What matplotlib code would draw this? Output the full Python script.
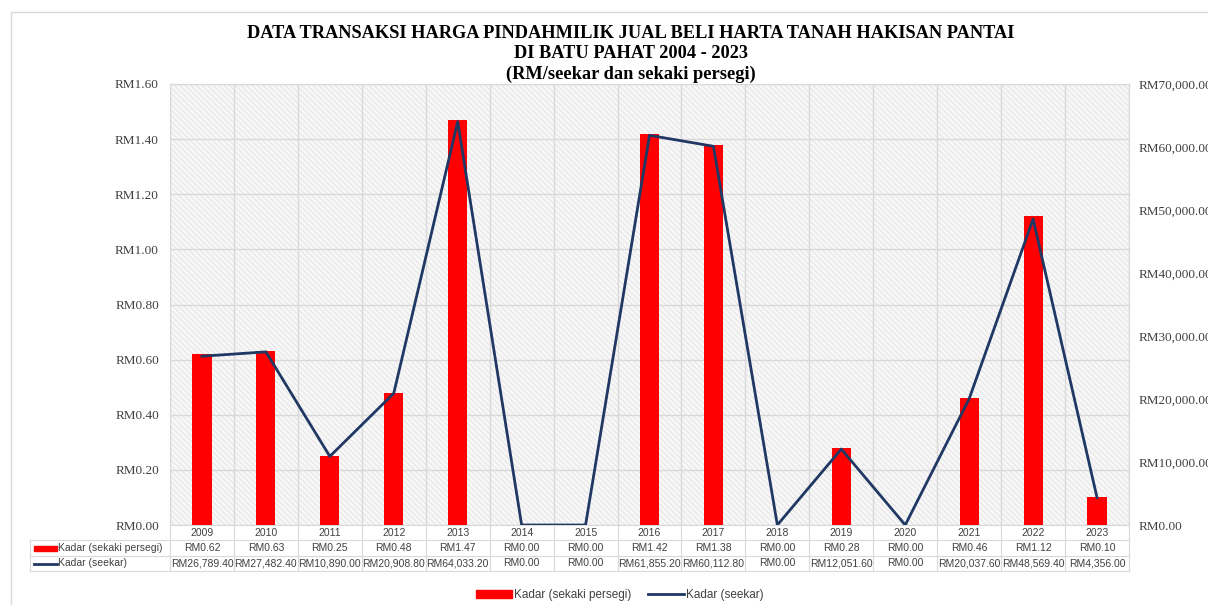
import matplotlib.pyplot as plt
from matplotlib.patches import Rectangle
from matplotlib.lines import Line2D
from matplotlib.ticker import FuncFormatter, MultipleLocator

years = ["2009", "2010", "2011", "2012", "2013", "2014", "2015", "2016",
         "2017", "2018", "2019", "2020", "2021", "2022", "2023"]
kadar_kaki = [0.62, 0.63, 0.25, 0.48, 1.47, 0.00, 0.00, 1.42, 1.38, 0.00,
              0.28, 0.00, 0.46, 1.12, 0.10]
kadar_ekar = [26789.40, 27482.40, 10890.00, 20908.80, 64033.20, 0.00, 0.00,
              61855.20, 60112.80, 0.00, 12051.60, 0.00, 20037.60, 48569.40,
              4356.00]
label_kaki = "Kadar (sekaki persegi)"
label_ekar = "Kadar (seekar)"

RED = "#ff0000"
NAVY = "#1f3864"
GRID = "#d9d9d9"
TXT = "#404040"
SERIF = "Liberation Serif"
SANS = "Liberation Sans"

W, H = 1208, 605
fig = plt.figure(figsize=(W / 100, H / 100), dpi=100)

# chart frame
fig.patches.append(Rectangle((11 / W, -0.1), 1.2, 1 - 12 / H + 0.1,
                             transform=fig.transFigure, fill=False,
                             edgecolor=GRID, lw=1))

ax = fig.add_axes([170 / W, 1 - 525 / H, 959 / W, 441 / H])
x = list(range(len(years)))
n = len(years)

# hatched background
ax.set_facecolor("#f7f7f7")
plt.rcParams["hatch.linewidth"] = 0.5
ax.add_patch(Rectangle((0, 0), 1, 1, transform=ax.transAxes, facecolor="none",
                       edgecolor="#dedede", hatch="\\\\\\\\\\\\", lw=0, zorder=0))

ax.bar(x, kadar_kaki, width=0.3, color=RED, zorder=3)
ax.set_xlim(-0.5, n - 0.5)
ax.set_ylim(0, 1.6)
ax.yaxis.set_major_locator(MultipleLocator(0.2))
ax.yaxis.set_major_formatter(FuncFormatter(lambda v, p: f"RM{v:.2f}"))
ax.set_xticks([i - 0.5 for i in range(n + 1)])
ax.set_xticklabels([])
ax.tick_params(length=0, pad=8)
ax.tick_params(axis="y", labelcolor=TXT)
for t in ax.get_yticklabels():
    t.set_fontfamily(SERIF)
    t.set_fontsize(9.5)
ax.grid(True, color=GRID, lw=1, zorder=1)
ax.set_axisbelow(True)
for s in ax.spines.values():
    s.set_color(GRID)

ax2 = ax.twinx()
ax2.plot(x, kadar_ekar, color=NAVY, lw=2, zorder=4)
ax2.set_ylim(0, 70000)
ax2.yaxis.set_major_locator(MultipleLocator(10000))
ax2.yaxis.set_major_formatter(FuncFormatter(lambda v, p: f"RM{v:,.2f}"))
ax2.tick_params(length=0, pad=7, labelcolor=TXT)
for t in ax2.get_yticklabels():
    t.set_fontfamily(SERIF)
    t.set_fontsize(9.5)
for s in ax2.spines.values():
    s.set_visible(False)

# data table under the plot, drawn by hand so columns follow the categories
row_h = 15.4 / 441
x0 = (30 - 170) / 959
xt = ax.get_xaxis_transform()
ta = ax.transAxes
line_kw = dict(color=GRID, lw=0.8, clip_on=False)
for k in range(1, 4):
    ax.add_line(Line2D([x0 if k > 1 else 0, 1], [-k * row_h] * 2,
                       transform=ta, **line_kw))
ax.add_line(Line2D([x0, 0], [-row_h, -row_h], transform=ta, **line_kw))
ax.add_line(Line2D([x0, x0], [-row_h, -3 * row_h], transform=ta, **line_kw))
for i in range(n + 1):
    ax.add_line(Line2D([i - 0.5] * 2, [0, -3 * row_h], transform=xt, **line_kw))

txt_kw = dict(ha="center", va="center", fontsize=7.5, family=SANS, color=TXT,
              clip_on=False)
rows = [years,
        [f"RM{v:,.2f}" for v in kadar_kaki],
        [f"RM{v:,.2f}" for v in kadar_ekar]]
for r, vals in enumerate(rows):
    yc = -(r + 0.5) * row_h
    for i, s in enumerate(vals):
        ax.text(i, yc, s, transform=xt, **txt_kw)

for r, (lab, kind) in enumerate([(label_kaki, "bar"), (label_ekar, "line")]):
    yc = -(r + 1.5) * row_h
    kx0, kx1 = (34 - 170) / 959, (57 - 170) / 959
    if kind == "bar":
        ax.add_patch(Rectangle((kx0, yc - 0.0057), kx1 - kx0, 0.0114,
                               transform=ta, color=RED, clip_on=False))
    else:
        ax.add_line(Line2D([kx0, kx1], [yc, yc], transform=ta,
                           color=NAVY, lw=2, clip_on=False))
    ax.text((58 - 170) / 959, yc, lab, transform=ta, ha="left",
            va="center", fontsize=7.5, family=SANS, color=TXT)

# legend
handles = [Rectangle((0, 0), 1, 1, color=RED),
           Line2D([0], [0], color=NAVY, lw=2)]
fig.legend(handles, [label_kaki, label_ekar], loc="center",
           bbox_to_anchor=(620 / W, 1 - 595 / H), ncol=2, frameon=False,
           handlelength=3.0, handletextpad=0.2, columnspacing=1.4,
           prop={"family": SANS, "size": 8.5}, labelcolor=TXT)

# title
titles = ["DATA TRANSAKSI HARGA PINDAHMILIK JUAL BELI HARTA TANAH HAKISAN PANTAI",
          "DI BATU PAHAT 2004 - 2023",
          "(RM/seekar dan sekaki persegi)"]
for t, yy in zip(titles, [33, 53, 74]):
    fig.text(631 / W, 1 - yy / H, t, ha="center", va="center", fontsize=13.2,
             family=SERIF, weight="bold", color="#000000")

fig.savefig("out.png", dpi=100)
